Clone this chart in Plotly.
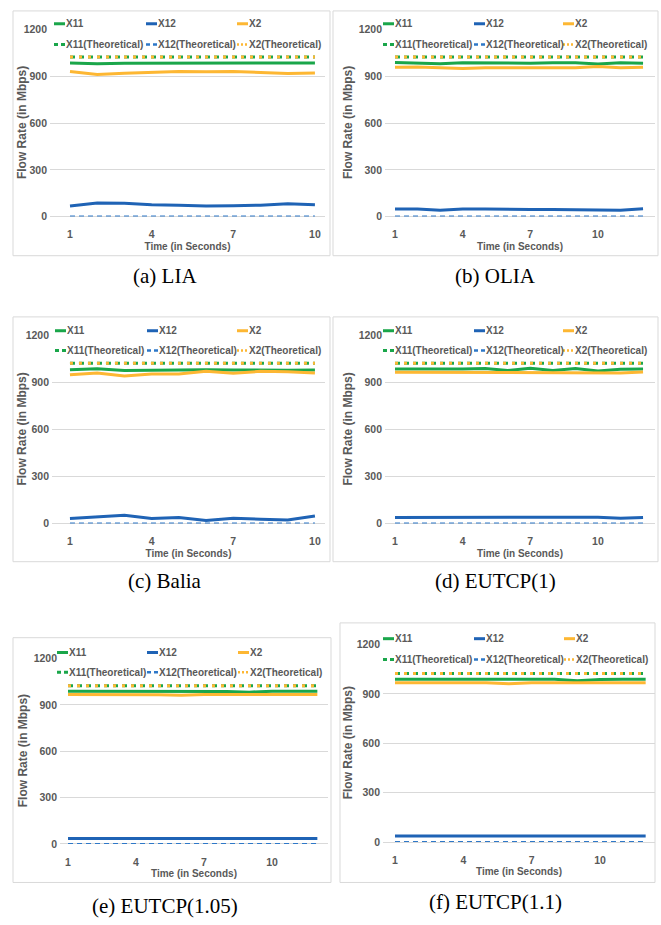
import plotly.graph_objects as go

W, H = 661, 925

# ---------------- data ----------------
time_10 = [1, 2, 3, 4, 5, 6, 7, 8, 9, 10]
time_12 = [1, 2, 3, 4, 5, 6, 7, 8, 9, 10, 11, 12]
x_tick_vals = [1, 4, 7, 10]
y_tick_vals = [0, 300, 600, 900, 1200]

theoretical_x11 = 1024
theoretical_x12 = 0
theoretical_x2 = 1024

lia_x11 = [986, 982, 985, 986, 986, 986, 986, 986, 986, 986]
lia_x12 = [68, 87, 85, 75, 72, 68, 70, 73, 82, 75]
lia_x2 = [931, 912, 920, 927, 932, 930, 932, 925, 918, 922]

olia_x11 = [990, 986, 982, 988, 986, 983, 985, 987, 988, 980, 988, 985]
olia_x12 = [49, 49, 41, 49, 49, 46, 45, 45, 45, 45, 41, 50]
olia_x2 = [958, 960, 956, 951, 955, 955, 958, 956, 955, 964, 955, 958]

balia_x11 = [983, 989, 977, 979, 983, 983, 981, 979, 979, 981]
balia_x12 = [32, 42, 53, 32, 38, 19, 34, 27, 23, 48]
balia_x2 = [951, 962, 943, 955, 955, 972, 960, 972, 970, 962]

eutcp1_x11 = [987, 987, 985, 987, 990, 978, 992, 978, 990, 975, 985, 987]
eutcp1_x12 = [38, 38, 38, 38, 38, 38, 41, 38, 38, 40, 33, 38]
eutcp1_x2 = [966, 966, 963, 966, 966, 963, 963, 963, 966, 966, 962, 968]

eutcp105_x11 = [988, 988, 988, 988, 988, 986, 988, 986, 982, 988, 988, 988]
eutcp105_x12 = [35, 35, 36, 37, 36, 34, 36, 37, 35, 36, 36, 35]
eutcp105_x2 = [967, 967, 967, 967, 965, 962, 967, 967, 967, 967, 965, 967]

eutcp11_x11 = [990, 990, 990, 990, 990, 990, 990, 990, 980, 988, 990, 990]
eutcp11_x12 = [36, 36, 38, 39, 37, 38, 39, 36, 39, 39, 38, 37]
eutcp11_x2 = [968, 968, 968, 968, 968, 962, 968, 968, 968, 968, 966, 968]

series_names = ["X11", "X12", "X2"]
theoretical_names = ["X11(Theoretical)", "X12(Theoretical)", "X2(Theoretical)"]
captions = ["(a) LIA", "(b) OLIA", "(c) Balia", "(d) EUTCP(1)", "(e) EUTCP(1.05)", "(f) EUTCP(1.1)"]
x_title = "Time (in Seconds)"
y_title = "Flow Rate (in Mbps)"

# ---------------- styles ----------------
GREEN = "#1AA64A"
BLUE = "#1F63B5"
ORANGE = "#FDB733"
BLUE_T = "#2E78C8"
GRID = "#D9D9D9"
TXT = "#595959"
SANS = "Liberation Sans, Arial, sans-serif"
SERIF = "Liberation Serif, Times New Roman, serif"

panels = [
    dict(t=time_10, x11=lia_x11, x12=lia_x12, x2=lia_x2,
         plot=(50, 325, 24, 213.3), xr=(0.265, 10.37), box=(13, 5, 330, 253),
         legx=(54, 146, 237), legy=(18, 39), cap=(165, 274), ytx=22),
    dict(t=time_12, x11=olia_x11, x12=olia_x12, x2=olia_x2,
         plot=(385, 655, 24, 213.3), xr=(0.557, 12.53), box=(333, 5, 658, 253),
         legx=(383, 474, 563), legy=(18, 39), cap=(495, 274), ytx=348),
    dict(t=time_10, x11=balia_x11, x12=balia_x12, x2=balia_x2,
         plot=(52, 325, 334, 524.3), xr=(0.34, 10.37), box=(13, 315, 330, 563),
         legx=(55, 147, 237), legy=(329, 349), cap=(165, 583), ytx=22),
    dict(t=time_12, x11=eutcp1_x11, x12=eutcp1_x12, x2=eutcp1_x2,
         plot=(385, 655, 334, 524.3), xr=(0.557, 12.53), box=(333, 315, 658, 563),
         legx=(383, 474, 563), legy=(329, 349), cap=(495, 583), ytx=348),
    dict(t=time_12, x11=eutcp105_x11, x12=eutcp105_x12, x2=eutcp105_x2,
         plot=(60, 328, 661, 849), xr=(0.646, 12.47), box=(13, 640, 331, 888),
         legx=(57, 147, 238), legy=(655, 675), cap=(165, 912), ytx=23),
    dict(t=time_12, x11=eutcp11_x11, x12=eutcp11_x12, x2=eutcp11_x2,
         plot=(383, 655, 647, 847), xr=(0.474, 12.41), box=(340, 625, 655, 888),
         legx=(383, 474, 564), legy=(641, 662), cap=(495, 908), ytx=348),
]


def fx(px):
    return px / W


def fy(py):
    return 1 - py / H


fig = go.Figure()
layout = dict(width=W, height=H, margin=dict(l=0, r=0, t=0, b=0),
              paper_bgcolor="white", plot_bgcolor="white", showlegend=False)
shapes = []
annotations = []

for i, p in enumerate(panels):
    n = "" if i == 0 else str(i + 1)
    xa, ya = "x" + n, "y" + n
    x0, x1, ytop, ybot = p["plot"]
    t = p["t"]

    layout["xaxis" + n] = dict(
        domain=[fx(x0), fx(x1)], anchor=ya, range=list(p["xr"]),
        tickmode="array", tickvals=x_tick_vals, ticktext=[str(v) for v in x_tick_vals],
        showgrid=False, zeroline=False, showline=False,
        ticks="outside", ticklen=8, tickcolor="rgba(0,0,0,0)",
        tickfont=dict(family=SANS, size=10.5, color=TXT, weight="bold"),
        title=dict(text=x_title, standoff=3,
                   font=dict(family=SANS, size=10, color=TXT, weight="bold")),
    )
    layout["yaxis" + n] = dict(
        domain=[fy(ybot), fy(ytop)], anchor=xa, range=[0, 1200],
        tickmode="array", tickvals=y_tick_vals,
        showgrid=True, gridcolor=GRID, gridwidth=1,
        zeroline=True, zerolinecolor=GRID, zerolinewidth=1, showline=False,
        ticks="", ticklabelstandoff=2,
        tickfont=dict(family=SANS, size=10.5, color=TXT, weight="bold"),
    )
    # y-axis title (placed close to the tick labels, as in the reference)
    annotations.append(dict(xref="paper", yref="paper", x=fx(p["ytx"]), y=fy((ytop + ybot) / 2),
                            xanchor="center", yanchor="middle", showarrow=False, text=y_title,
                            textangle=-90,
                            font=dict(family=SANS, size=12, color=TXT, weight="bold")))

    # measured series
    fig.add_trace(go.Scatter(x=t, y=p["x11"], name="X11", mode="lines", xaxis=xa, yaxis=ya,
                             line=dict(color=GREEN, width=3), cliponaxis=False))
    fig.add_trace(go.Scatter(x=t, y=p["x12"], name="X12", mode="lines", xaxis=xa, yaxis=ya,
                             line=dict(color=BLUE, width=3), cliponaxis=False))
    fig.add_trace(go.Scatter(x=t, y=p["x2"], name="X2", mode="lines", xaxis=xa, yaxis=ya,
                             line=dict(color=ORANGE, width=3), cliponaxis=False))
    # theoretical series
    fig.add_trace(go.Scatter(x=t, y=[theoretical_x11] * len(t), name="X11(Theoretical)", mode="lines",
                             xaxis=xa, yaxis=ya, line=dict(color=GREEN, width=3, dash="5px,4px"),
                             cliponaxis=False))
    fig.add_trace(go.Scatter(x=t, y=[theoretical_x12] * len(t), name="X12(Theoretical)", mode="lines",
                             xaxis=xa, yaxis=ya, line=dict(color=BLUE_T, width=2, dash="5px,4px"),
                             cliponaxis=False))
    fig.add_trace(go.Scatter(x=t, y=[theoretical_x2] * len(t), name="X2(Theoretical)", mode="lines",
                             xaxis=xa, yaxis=ya, line=dict(color=ORANGE, width=3, dash="3px,6px"),
                             cliponaxis=False))

    # panel border
    bx0, by0, bx1, by1 = p["box"]
    shapes.append(dict(type="rect", xref="paper", yref="paper",
                       x0=fx(bx0), x1=fx(bx1), y0=fy(by1), y1=fy(by0),
                       line=dict(color=GRID, width=1), fillcolor="rgba(0,0,0,0)", layer="below"))

    # custom legend (two rows, three columns)
    lx, (ly1, ly2) = p["legx"], p["legy"]
    rows = [
        (ly1, series_names, [(GREEN, 3, "solid"), (BLUE, 3, "solid"), (ORANGE, 3, "solid")], "white"),
        (ly2, theoretical_names, [(GREEN, 3, "4px,3px"), (BLUE_T, 2.5, "4px,3px"), (ORANGE, 2.5, "2px,2px")],
         "rgba(0,0,0,0)"),
    ]
    for ry, names, styles, bg in rows:
        for cx, name, (col, wid, dash) in zip(lx, names, styles):
            shapes.append(dict(type="line", xref="paper", yref="paper", layer="above",
                               x0=fx(cx), x1=fx(cx + 11), y0=fy(ry), y1=fy(ry),
                               line=dict(color=col, width=wid, dash=dash)))
            annotations.append(dict(xref="paper", yref="paper", x=fx(cx + 11), y=fy(ry),
                                    xanchor="left", yanchor="middle", showarrow=False, text=name,
                                    bgcolor=bg, borderpad=0,
                                    font=dict(family=SANS, size=10, color=TXT, weight="bold")))

    # caption
    annotations.append(dict(xref="paper", yref="paper", x=fx(p["cap"][0]), y=fy(p["cap"][1]),
                            xanchor="center", yanchor="middle", showarrow=False, text=captions[i],
                            font=dict(family=SERIF, size=21, color="black")))

layout["shapes"] = shapes
layout["annotations"] = annotations
fig.update_layout(**layout)

fig.write_html("out.html", config={"displayModeBar": False},
               post_script="document.body.style.margin='0';document.body.style.padding='0';")
